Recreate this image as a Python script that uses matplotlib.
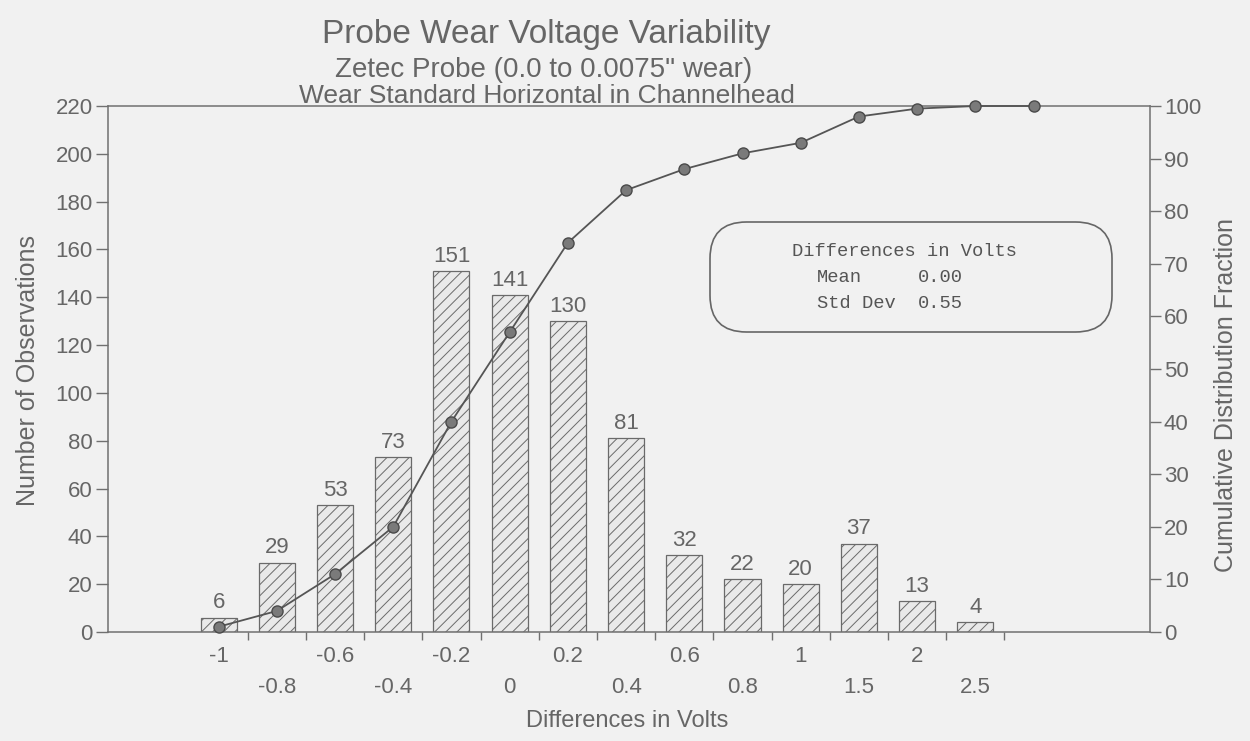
import matplotlib
matplotlib.use("Agg")
import matplotlib.pyplot as plt
from matplotlib.patches import FancyBboxPatch
import matplotlib.transforms as mtrans

# ---- data ----
categories = ["-1", "-0.8", "-0.6", "-0.4", "-0.2", "0", "0.2", "0.4",
              "0.6", "0.8", "1", "1.5", "2", "2.5"]
counts = [6, 29, 53, 73, 151, 141, 130, 81, 32, 22, 20, 37, 13, 4]
cum_pct = [1, 4, 11, 20, 40, 57, 74, 84, 88, 91, 93, 98, 99.5, 100, 100]
left_ticks = list(range(0, 221, 20))
right_ticks = list(range(0, 101, 10))
title_lines = ["Probe Wear Voltage Variability",
               "Zetec Probe (0.0 to 0.0075\" wear)",
               "Wear Standard Horizontal in Channelhead"]
stat_title = "Differences in Volts"
stat_rows = [("Mean", "0.00"), ("Std Dev", "0.55")]

# ---- style ----
bg = "#f1f1f1"
ink = "#666666"
axc = "#707070"
plt.rcParams["font.family"] = ["Liberation Sans", "DejaVu Sans"]
plt.rcParams["hatch.linewidth"] = 0.7
plt.rcParams["hatch.color"] = "#8a8a8a"

W, H = 1250, 741
L, R, T, B = 108, 1150, 106, 632
fig = plt.figure(figsize=(W / 100, H / 100), dpi=100, facecolor=bg)
ax = fig.add_axes([L / W, 1 - B / H, (R - L) / W, (B - T) / H])
ax.set_facecolor(bg)

def fx(px):
    return px / W

def fy(py):
    return 1 - py / H

pos = list(range(len(categories)))
ax.bar(pos, counts, width=0.62, facecolor="#e9e9e9", edgecolor="#6a6a6a",
       linewidth=0.9, hatch="///", zorder=2)
for x, v in zip(pos, counts):
    ax.annotate(str(v), (x, v), xytext=(0, 3), textcoords="offset points",
                ha="center", va="bottom", fontsize=16, color=ink)

ax.set_xlim(-1.9, 16.0)
ax.set_ylim(0, 220)
ax.set_yticks(left_ticks)
ax.tick_params(axis="y", direction="out", length=9, width=1, colors=axc,
               labelsize=16, labelcolor=ink, pad=2)
ax.set_xticks([p + 0.5 for p in pos])
ax.set_xticklabels([])
ax.tick_params(axis="x", direction="out", length=6, width=1, colors=axc)
for s in ax.spines.values():
    s.set_color(axc)
    s.set_linewidth(1.1)

# two-row category labels
trans = mtrans.blended_transform_factory(ax.transData, ax.transAxes)
for i, lab in enumerate(categories):
    off = -18 if i % 2 == 0 else -40
    ax.annotate(lab, (i, 0), xycoords=trans, xytext=(0, off), textcoords="offset points",
                ha="center", va="center", fontsize=16, color=ink)

fig.text(fx(627), fy(721), "Differences in Volts", ha="center", va="center",
         fontsize=17, color=ink)
fig.text(fx(28), fy(370), "Number of Observations", ha="center", va="center",
         rotation=90, fontsize=18, color=ink)
fig.text(fx(1226), fy(395), "Cumulative Distribution Fraction", ha="center",
         va="center", rotation=90, fontsize=18, color=ink)

# right axis / cumulative
ax2 = ax.twinx()
ax2.set_ylim(0, 100)
ax2.set_yticks(right_ticks)
ax2.tick_params(axis="y", direction="out", length=8, width=1, colors=axc,
                labelsize=16, labelcolor=ink, pad=2)
for s in ax2.spines.values():
    s.set_visible(False)
ax2.plot(list(range(len(cum_pct))), cum_pct, color="#555555", lw=1.3,
         marker="o", ms=8, mfc="#7a7a7a", mec="#4a4a4a", mew=1, zorder=5, clip_on=False)

# titles
fig.text(fx(546), fy(43), title_lines[0], ha="center", va="baseline",
         fontsize=24, color=ink)
fig.text(fx(544), fy(77), title_lines[1], ha="center", va="baseline",
         fontsize=20, color=ink)
fig.text(fx(547), fy(103), title_lines[2], ha="center", va="baseline",
         fontsize=19, color=ink)

# stats box
pw, ph = R - L, B - T
bx0 = (710 - L) / pw
bx1 = (1112 - L) / pw
by1 = 1 - (222 - T) / ph
by0 = 1 - (332 - T) / ph
box = FancyBboxPatch((bx0, by0), bx1 - bx0, by1 - by0,
                     boxstyle="round,pad=0,rounding_size=0.035",
                     transform=ax.transAxes, facecolor=bg, edgecolor="#666666",
                     linewidth=1.2, zorder=6, mutation_aspect=pw / ph)
ax2.add_patch(box)
mono = ["Liberation Mono", "DejaVu Sans Mono"]
fig.text(fx(905), fy(251), stat_title, ha="center", va="center", fontsize=13.5,
         family=mono, color="#555555", zorder=7)
for k, (name, val) in enumerate(stat_rows):
    yy = fy(278 + 25 * k)
    fig.text(fx(817), yy, name, ha="left", va="center", fontsize=13.5,
             family=mono, color="#555555", zorder=7)
    fig.text(fx(918), yy, val, ha="left", va="center", fontsize=13.5,
             family=mono, color="#555555", zorder=7)

fig.savefig("out.png", dpi=100, facecolor=bg)
